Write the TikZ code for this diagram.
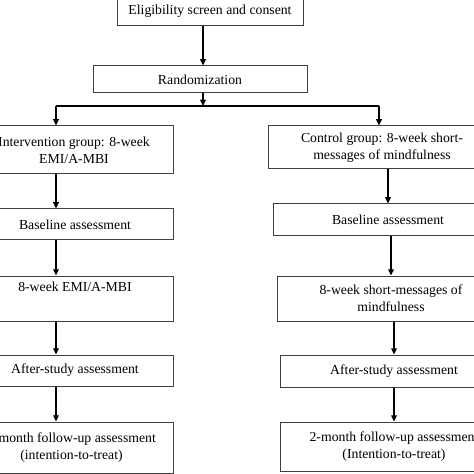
\documentclass[tikz,border=0pt]{standalone}
\usepackage{fontspec}
\setmainfont{Liberation Serif}
\usetikzlibrary{arrows.meta,positioning}

\begin{document}
\begin{tikzpicture}[x=0.8pt, y=-0.8pt,
    box/.style={draw=black!75, line width=0.8pt, align=center, font=\fontsize{11}{13.6}\selectfont, inner sep=2pt},
    arrow/.style={-{Triangle[length=5pt, width=4.5pt]}, line width=1pt}
]
    \useasboundingbox (0,0) rectangle (474,474);
    \clip (0,0) rectangle (474,474);

    % Top
    \node[box, minimum width=148.8pt, minimum height=23.2pt] (elig) at (210, 11.5) {Eligibility screen and consent};
    \node[box, minimum width=171.2pt, minimum height=21.6pt] (rand) at (200, 79.5) {Randomization};

    % Split points
    \coordinate (split) at (203, 106);
    \coordinate (lcol) at (56, 106);
    \coordinate (rcol) at (379, 106);

    % Intervention arm
    \node[box, minimum width=158.4pt, minimum height=38.4pt] (int1) at (74, 150) {Intervention group: 8-week\\EMI/A-MBI};
    \node[box, minimum width=156.8pt, minimum height=24.8pt] (int2) at (75, 224.5) {Baseline assessment};
    \node[box, minimum width=156.8pt, text height=12pt, text depth=24pt, inner ysep=0pt] (int3) at (75, 298.5) {8-week EMI/A-MBI};
    \node[box, minimum width=156.8pt, minimum height=24.8pt] (int4) at (75, 370.5) {After-study assessment};
    \node[box, minimum width=162.4pt, minimum height=40.8pt] (int5) at (71.5, 447.5) {2-month follow-up assessment\\(intention-to-treat)};

    % Control arm
    \node[box, minimum width=182.4pt, minimum height=34.4pt] (ctl1) at (382, 147.5) {Control group: 8-week short-\\messages of mindfulness};
    \node[box, minimum width=184pt, minimum height=25.6pt] (ctl2) at (388, 220) {Baseline assessment};
    \node[box, minimum width=182.4pt, minimum height=36pt] (ctl3) at (391, 298.5) {8-week short-messages of\\mindfulness};
    \node[box, minimum width=182.4pt, minimum height=25.6pt] (ctl4) at (394, 371) {After-study assessment};
    \node[box, minimum width=182.4pt, minimum height=39.2pt] (ctl5) at (394, 446.5) {2-month follow-up assessment\\(Intention-to-treat)};

    % Arrows
    \draw[arrow] (elig.south -| split) -- (rand.north -| split);
    \draw[arrow] (rand.south -| split) -- (split);
    \draw[line width=1pt] (lcol) -- (rcol);
    \draw[arrow] (lcol) -- (int1.north -| lcol);
    \draw[arrow] (rcol) -- (ctl1.north -| rcol);
    \draw[arrow] (int1.south -| lcol) -- (int2.north -| lcol);
    \draw[arrow] (int2.south -| lcol) -- (int3.north -| lcol);
    \draw[arrow] (int3.south -| lcol) -- (int4.north -| lcol);
    \draw[arrow] (int4.south -| lcol) -- (int5.north -| lcol);
    \draw[arrow] (ctl1.south -| ctl2.north) -- (ctl2.north);
    \draw[arrow] (ctl2.south -| ctl3.north) -- (ctl3.north);
    \draw[arrow] (ctl3.south -| ctl4.north) -- (ctl4.north);
    \draw[arrow] (ctl4.south -| ctl5.north) -- (ctl5.north);
\end{tikzpicture}
\end{document}
